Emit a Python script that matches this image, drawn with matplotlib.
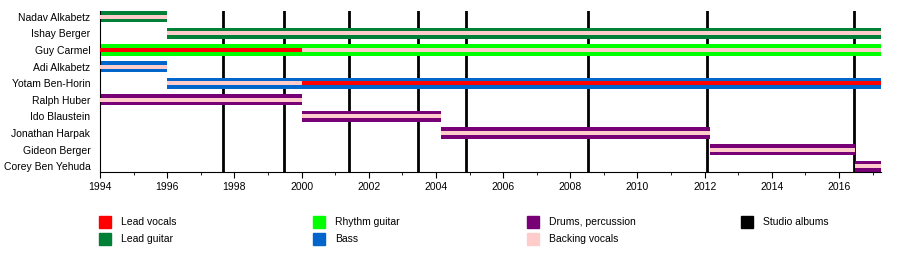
import matplotlib
matplotlib.use("Agg")
import matplotlib.pyplot as plt
from matplotlib.patches import Rectangle
from matplotlib.ticker import MultipleLocator

plt.rcParams['font.family'] = ['Liberation Sans', 'DejaVu Sans']

# colores de los roles
c_lead_vocals = '#FF0000'
c_lead_guitar = '#007F36'
c_rhythm = '#00FF00'
c_bass = '#0066CC'
c_drums = '#770077'
c_backing = '#FFCCCC'
c_albums = '#000000'

end = 2017.25

members = ['Nadav Alkabetz', 'Ishay Berger', 'Guy Carmel', 'Adi Alkabetz',
           'Yotam Ben-Horin', 'Ralph Huber', 'Ido Blaustein', 'Jonathan Harpak',
           'Gideon Berger', 'Corey Ben Yehuda']

# barra principal: (miembro, inicio, fin, color)
main_bars = [
    (0, 1994, 1996, c_lead_guitar),
    (1, 1996, end, c_lead_guitar),
    (2, 1994, end, c_rhythm),
    (3, 1994, 1996, c_bass),
    (4, 1996, end, c_bass),
    (5, 1994, 2000, c_drums),
    (6, 2000, 2004.15, c_drums),
    (7, 2004.15, 2012.15, c_drums),
    (8, 2012.15, 2016.47, c_drums),
    (9, 2016.47, end, c_drums),
]
# franja interior (voces)
inner_bars = [
    (0, 1994, 1996, c_backing),
    (1, 1996, end, c_backing),
    (2, 1994, 2000, c_lead_vocals),
    (2, 2000, end, c_backing),
    (3, 1994, 1996, c_backing),
    (4, 1996, 2000, c_backing),
    (4, 2000, end, c_lead_vocals),
    (5, 1994, 2000, c_backing),
    (6, 2000, 2004.15, c_backing),
    (7, 2004.15, 2012.15, c_backing),
    (8, 2012.15, 2016.47, c_backing),
    (9, 2016.47, end, c_backing),
]

albums = [1997.66, 1999.48, 2001.42, 2003.47, 2004.9, 2008.53, 2012.07, 2016.45]

legend_labels = ['Lead vocals', 'Lead guitar', 'Rhythm guitar', 'Bass',
                 'Drums, percussion', 'Backing vocals', 'Studio albums']
legend_colors = [c_lead_vocals, c_lead_guitar, c_rhythm, c_bass,
                 c_drums, c_backing, c_albums]

fig = plt.figure(figsize=(9, 2.62), dpi=100)
ax = fig.add_axes([100/900, 1-172/262, 781/900, 161/262])

for x in albums:
    ax.axvline(x, color=c_albums, lw=2, zorder=1)

for i, a, b, c in main_bars:
    ax.barh(i, b-a, left=a, height=0.68, color=c, zorder=2)
for i, a, b, c in inner_bars:
    ax.barh(i, b-a, left=a, height=0.24, color=c, zorder=3)

ax.set_xlim(1994, end)
ax.set_ylim(len(members)-1+0.34, -0.34)
ax.set_yticks(range(len(members)))
ax.set_yticklabels(members, fontsize=7.5)
ax.tick_params(axis='y', length=0, pad=7)
ax.xaxis.set_major_locator(MultipleLocator(2))
ax.xaxis.set_minor_locator(MultipleLocator(1))
ax.tick_params(axis='x', which='major', length=4, labelsize=7.5, pad=3)
ax.tick_params(axis='x', which='minor', length=2)
ax.spines['top'].set_visible(False)
ax.spines['right'].set_visible(False)

# leyenda manual
col_x = [99, 313, 527, 741]
row_y = [222, 239]
for k, (lab, col) in enumerate(zip(legend_labels, legend_colors)):
    cx = col_x[k // 2]
    cy = row_y[k % 2]
    fig.add_artist(Rectangle((cx/900, 1-(cy+6)/262), 12/900, 12/262,
                             transform=fig.transFigure, color=col))
    fig.text((cx+22)/900, 1-cy/262, lab, fontsize=7.5, va='center')

plt.savefig('out.png', dpi=100)
